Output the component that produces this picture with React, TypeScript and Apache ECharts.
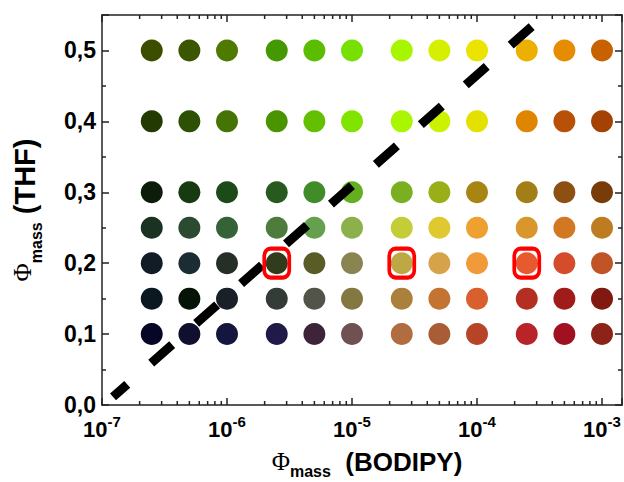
import React, { useEffect, useRef } from "react";
import * as echarts from "echarts";

// Φ_mass (BODIPY) column positions
const xValues = [2.5e-7, 5e-7, 1e-6, 2.5e-6, 5e-6, 1e-5, 2.5e-5, 5e-5, 1e-4, 2.5e-4, 5e-4, 1e-3];
// Φ_mass (THF) row positions
const yValues = [0.1, 0.15, 0.2, 0.25, 0.3, 0.4, 0.5];
// colour of each dot, one row per yValues entry, one column per xValues entry
const row010 = ["#080626", "#10102e", "#14163e", "#201a48", "#3e2438", "#705050", "#b06e40", "#aa5c34", "#b84428", "#b82428", "#a01020", "#8c2218"];
const row015 = ["#0c1820", "#061408", "#1a2028", "#343c38", "#52544a", "#847842", "#aa803a", "#c47432", "#d8602e", "#b42e22", "#a01c1a", "#821812"];
const row020 = ["#121c26", "#1c2c34", "#262e28", "#313c1c", "#5a5c28", "#8a8452", "#bca844", "#d6a24a", "#f09a3a", "#e65a30", "#d44c2c", "#c05426"];
const row025 = ["#1a3222", "#2c4a30", "#366238", "#4e7c3c", "#64a04e", "#8cb04c", "#c4cc38", "#e0c830", "#eea030", "#d8962c", "#d27822", "#be7c22"];
const row030 = ["#0c1e0a", "#183a10", "#1c4a18", "#285a20", "#3f8c28", "#62b022", "#7ab020", "#9aae18", "#a88412", "#a27e16", "#8e5012", "#783c08"];
const row040 = ["#233b03", "#2d5004", "#457404", "#4a9400", "#62c000", "#80e400", "#aaf500", "#cdf200", "#e4e000", "#e08500", "#b85008", "#a44204"];
const row050 = ["#3d4d00", "#3b5500", "#4f7a00", "#449800", "#5abd00", "#78e000", "#a8f500", "#d4f000", "#ebe300", "#ecb100", "#e68c00", "#c86200"];
const dotColors = [row010, row015, row020, row025, row030, row040, row050];
// highlighted points (red boxes)
const boxX = [2.5e-6, 2.5e-5, 2.5e-4];
const boxY = [0.2, 0.2, 0.2];
// dashed guide line end points
const guideX = [1.225e-7, 2.96e-4];
const guideY = [0.0113, 0.539];
// axis ranges
const xMin = 1e-7;
const xMax = 1.445e-3;
const yMin = 0;
const yMax = 0.55;
const yTickStep = 0.1;
const xDecades = [-7, -6, -5, -4, -3];

const SANS = "'Liberation Sans', Arial, sans-serif";
const SERIF = "'Liberation Serif', 'Times New Roman', serif";
const FRAME = "#222";

export default function App() {
  const ref = useRef<HTMLDivElement>(null);
  useEffect(() => {
    if (!ref.current) return;
    const chart = echarts.init(ref.current, null, { renderer: "svg" });

    const dots: any[] = [];
    yValues.forEach((y, r) => {
      xValues.forEach((x, c) => {
        dots.push({ value: [x, y], itemStyle: { color: dotColors[r][c], opacity: 1 } });
      });
    });

    const minorLog: number[][] = [];
    for (let k = xDecades[0]; k < xDecades[xDecades.length - 1]; k++) {
      for (let m = 2; m <= 9; m++) minorLog.push([m * Math.pow(10, k)]);
    }

    const xLabel = (v: number) => {
      const e = Math.log10(v);
      if (Math.abs(e - Math.round(e)) > 1e-6) return "";
      return `{b|10}{s|${Math.round(e)}}`;
    };
    const yLabel = (v: number) => {
      if (v > 0.5 + 1e-9) return "";
      return v.toFixed(1).replace(".", ",");
    };

    const makeRich = (main: number, subLH: number) => ({
      phi: { fontFamily: SERIF, fontSize: 25, fontWeight: "normal", color: "#000", lineHeight: 28, verticalAlign: "top" },
      sub: { fontFamily: SANS, fontSize: 16, fontWeight: "bold", color: "#000", lineHeight: subLH },
      t: { fontFamily: SANS, fontSize: main, fontWeight: "bold", color: "#000", lineHeight: 28, verticalAlign: "top" },
    });

    const axisLine = { show: true, onZero: false, lineStyle: { color: FRAME, width: 1.5 } };
    const axisTick = { show: true, inside: true, length: 7, lineStyle: { color: FRAME, width: 1.5 } };
    const minorTick = { show: true, splitNumber: 2, length: 4, lineStyle: { color: FRAME, width: 1.5 } };

    const option: any = {
      animation: false,
      backgroundColor: "#fff",
      grid: { left: 102, right: 2, top: 15, bottom: 77, containLabel: false, outerBoundsMode: "none" },
      xAxis: [
        {
          type: "log",
          logBase: 10,
          min: xMin,
          max: xMax,
          position: "bottom",
          axisLine,
          axisTick,
          splitLine: { show: false },
          axisLabel: {
            formatter: xLabel,
            margin: 9,
            color: "#000",
            rich: {
              b: { fontFamily: SANS, fontSize: 22, fontWeight: "bold", color: "#000", lineHeight: 26, verticalAlign: "bottom" },
              s: { fontFamily: SANS, fontSize: 15, fontWeight: "bold", color: "#000", lineHeight: 11, verticalAlign: "top" },
            },
          },
          name: "{phi|Φ}{sub|mass}{t|  (BODIPY)}",
          nameLocation: "middle",
          nameGap: 44,
          nameTextStyle: { rich: makeRich(26, 45), padding: [0, 0, 0, 10] },
        },
        {
          type: "log",
          logBase: 10,
          min: xMin,
          max: xMax,
          position: "top",
          axisLine,
          axisTick,
          splitLine: { show: false },
          axisLabel: { show: false },
        },
      ],
      yAxis: [
        {
          type: "value",
          min: yMin,
          max: yMax,
          interval: yTickStep,
          position: "left",
          axisLine,
          axisTick,
          minorTick,
          splitLine: { show: false },
          axisLabel: {
            formatter: yLabel,
            margin: 6,
            fontFamily: SANS,
            fontSize: 23,
            fontWeight: "bold",
            color: "#000",
          },
          name: "{phi|Φ}{sub|mass}{t| (THF)}",
          nameLocation: "middle",
          nameGap: 40,
          nameTextStyle: { rich: makeRich(29, 52) },
        },
        {
          type: "value",
          min: yMin,
          max: yMax,
          interval: yTickStep,
          position: "right",
          axisLine,
          axisTick,
          minorTick,
          splitLine: { show: false },
          axisLabel: { show: false },
        },
      ],
      series: [
        {
          type: "scatter",
          xAxisIndex: 0,
          yAxisIndex: 0,
          symbol: "circle",
          symbolSize: 22,
          data: dots,
          itemStyle: { opacity: 1 },
          z: 2,
          silent: true,
        },
        {
          type: "line",
          xAxisIndex: 0,
          yAxisIndex: 0,
          data: guideX.map((x, i) => [x, guideY[i]]),
          symbol: "none",
          lineStyle: { color: "#000", width: 9, type: [28, 32], dashOffset: 9, cap: "butt", opacity: 1 },
          z: 3,
          silent: true,
        },
        {
          type: "scatter",
          xAxisIndex: 0,
          yAxisIndex: 0,
          symbol: "roundRect",
          symbolSize: [25, 29],
          data: boxX.map((x, i) => [x, boxY[i]]),
          itemStyle: { color: "rgba(0,0,0,0)", borderColor: "#ff0000", borderWidth: 4, opacity: 1 },
          z: 4,
          silent: true,
        },
        {
          type: "custom",
          xAxisIndex: 0,
          yAxisIndex: 0,
          data: minorLog,
          encode: { x: 0 },
          clip: false,
          silent: true,
          z: 5,
          renderItem: (params: any, api: any) => {
            const v = api.value(0);
            const b = api.coord([v, yMin]);
            const t = api.coord([v, yMax]);
            const style = { stroke: FRAME, lineWidth: 1.5 };
            return {
              type: "group",
              children: [
                { type: "line", shape: { x1: b[0], y1: b[1], x2: b[0], y2: b[1] - 4 }, style },
                { type: "line", shape: { x1: t[0], y1: t[1], x2: t[0], y2: t[1] + 4 }, style },
              ],
            };
          },
        },
      ],
    };
    chart.setOption(option);
    return () => chart.dispose();
  }, []);
  return (
    <div
      ref={ref}
      style={{ position: "absolute", left: 0, top: 0, width: 624, height: 482 }}
    />
  );
}
